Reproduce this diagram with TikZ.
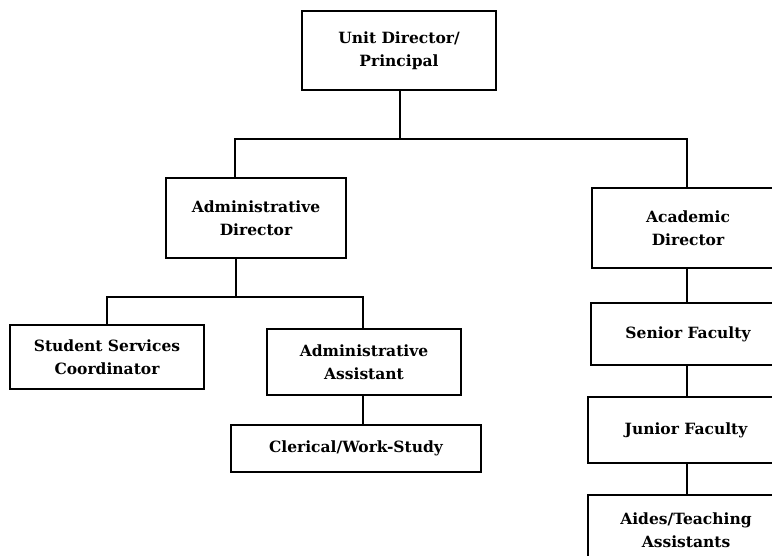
\documentclass[tikz,border=0pt]{standalone}
\usepackage{fontspec}
\setmainfont{DejaVu Serif}
\begin{document}
\begin{tikzpicture}[x=1pt,y=-1pt,
  box/.style={draw, line width=2pt, align=center, inner sep=0pt,
    font=\fontsize{15.5}{23}\selectfont\bfseries},
  link/.style={line width=2.8pt}]
\useasboundingbox (0,0) rectangle (772,556);
\begin{scope}
\clip (0,0) rectangle (772,556);
% boxes
\node[box, minimum width=194pt, minimum height=79pt] (top) at (399,51) {Unit Director/\\Principal};
\node[box, minimum width=180pt, minimum height=80pt] (adm) at (256,218) {Administrative\\Director};
\node[box, minimum width=192pt, minimum height=80pt] (acad) at (688,228) {Academic\\Director};
\node[box, minimum width=194pt, minimum height=64pt] (ssc) at (107,357) {Student Services\\Coordinator};
\node[box, minimum width=194pt, minimum height=66pt] (aa) at (364,362) {Administrative\\Assistant};
\node[box, minimum width=250pt, minimum height=47pt] (cler) at (356,448) {Clerical/Work-Study};
\node[box, minimum width=194pt, minimum height=62pt] (sen) at (688,334) {Senior Faculty};
\node[box, minimum width=196pt, minimum height=66pt] (jun) at (686,430) {Junior Faculty};
\node[box, minimum width=196pt, minimum height=70pt] (aide) at (686,530) {Aides/Teaching\\Assistants};
% junction points
\coordinate (b1) at (400,139);
\coordinate (b2) at (236,297);
% connectors
\draw[link] (top.south -| b1) -- (b1);
\draw[link] (adm.north -| 235,0) |- (b1) -| (acad.north -| 687,0);
\draw[link] (adm.south -| b2) -- (b2);
\draw[link] (ssc.north) |- (b2) -| (aa.north -| 363,0);
\draw[link] (aa.south -| 363,0) -- (cler.north -| 363,0);
\draw[link] (acad.south -| 687,0) -- (sen.north -| 687,0);
\draw[link] (sen.south -| 687,0) -- (jun.north -| 687,0);
\draw[link] (jun.south -| 687,0) -- (aide.north -| 687,0);
\end{scope}
\end{tikzpicture}
\end{document}
